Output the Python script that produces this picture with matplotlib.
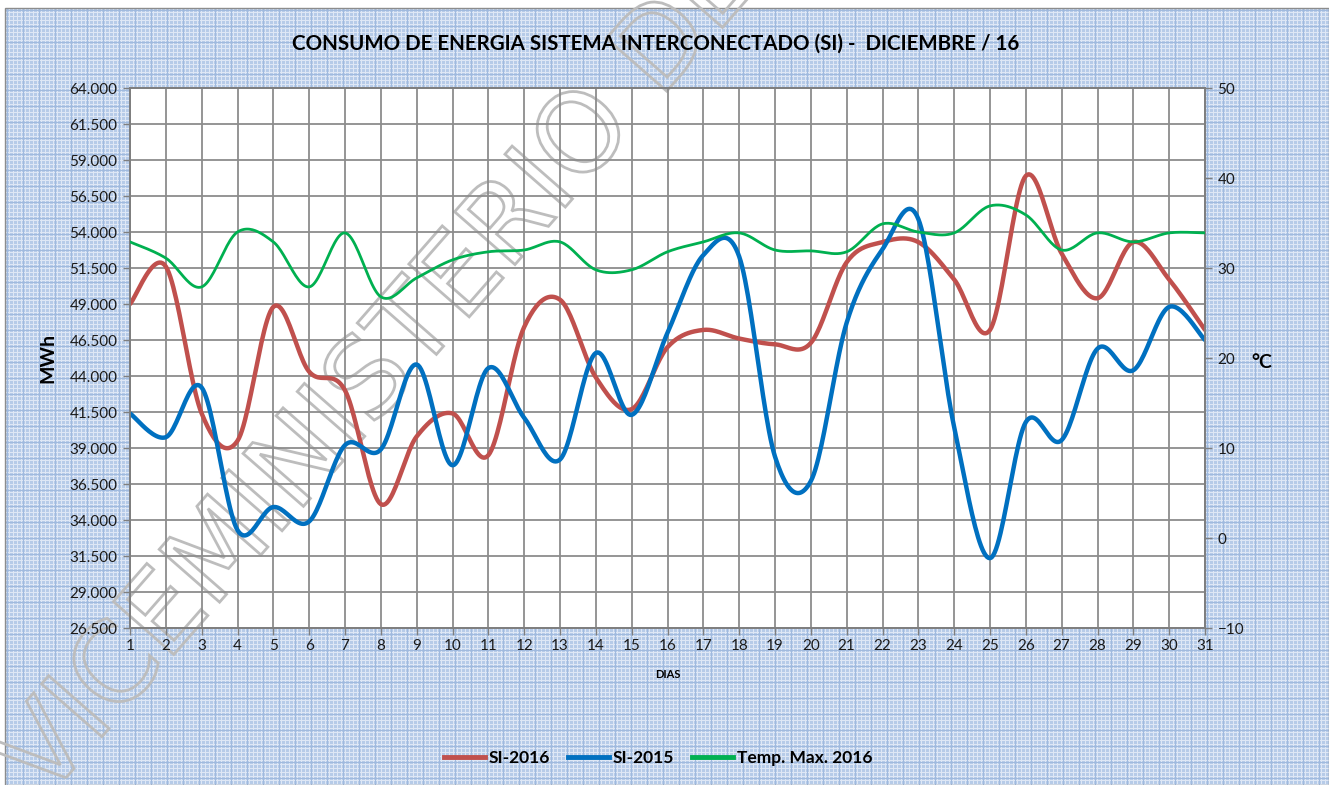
import numpy as np
import matplotlib
matplotlib.use('Agg')
import matplotlib.pyplot as plt
from matplotlib.lines import Line2D
from matplotlib.textpath import TextPath
from matplotlib.patches import PathPatch, Rectangle
from matplotlib.font_manager import FontProperties
from matplotlib.transforms import Affine2D, IdentityTransform
from matplotlib.ticker import FuncFormatter, MultipleLocator

# data
dias = list(range(1, 32))
si_2016 = [49000, 51600, 41400, 39500, 48800, 44300, 43000, 35100, 39800, 41400,
           38500, 47400, 49300, 43900, 41700, 46000, 47200, 46600, 46200, 46300,
           51900, 53300, 53300, 50700, 47200, 57900, 52500, 49400, 53300, 50700, 47200]
si_2015 = [41400, 39750, 43200, 33300, 34900, 33900, 39200, 38900, 44800, 37800,
           44550, 41100, 38200, 45600, 41300, 47000, 52400, 52300, 38400, 36700,
           47700, 52800, 54900, 40450, 31350, 40800, 39550, 45900, 44400, 48800, 46500]
temp_max = [32.9, 31.1, 27.9, 34.0, 32.9, 27.9, 33.9, 26.8, 28.9, 30.9,
            31.8, 32.0, 32.9, 29.8, 29.8, 31.8, 32.9, 33.9, 32.0, 31.9,
            31.8, 34.9, 34.0, 33.9, 36.9, 35.9, 32.0, 33.9, 32.9, 33.9, 33.9]
mwh_ticks = list(range(26500, 64001, 2500))

titulo = 'CONSUMO DE ENERGIA SISTEMA INTERCONECTADO (SI) -  DICIEMBRE / 16'
marca = 'VICEMINISTERIO DE ELECTRICIDAD'

RED = '#c0504d'
BLUE = '#0070c0'
GREEN = '#00b050'
GRID = '#8c8c8c'

plt.rcParams['font.family'] = ['Lato', 'DejaVu Sans']


def smooth(x, y, n=24):
    # Excel-style smoothed line (uniform Catmull-Rom)
    x = np.asarray(x, float)
    y = np.asarray(y, float)
    px = np.concatenate([[x[0]], x, [x[-1]]])
    py = np.concatenate([[y[0]], y, [y[-1]]])
    xs, ys = [], []
    t = np.linspace(0, 1, n, endpoint=False)
    for i in range(1, len(px) - 2):
        for arr, out in ((px, xs), (py, ys)):
            p0, p1, p2, p3 = arr[i - 1], arr[i], arr[i + 1], arr[i + 2]
            out.extend(0.5 * ((2 * p1) + (-p0 + p2) * t
                              + (2 * p0 - 5 * p1 + 4 * p2 - p3) * t ** 2
                              + (-p0 + 3 * p1 - 3 * p2 + p3) * t ** 3))
    xs.append(x[-1])
    ys.append(y[-1])
    return np.array(xs), np.array(ys)


W, H = 1329, 785
fig = plt.figure(figsize=(W / 100, H / 100), dpi=100, facecolor='white')

# blue textured background of the chart area
bh, bw = H - 8, W - 5
yy, xx = np.mgrid[0:bh, 0:bw]
bg = np.ones((bh, bw, 3)) * np.array([182, 203, 232]) / 255
light = (xx % 4 == 0) | (yy % 4 == 0)
bg[light] = np.array([222, 231, 245]) / 255
dark = (xx % 16 == 2) | (yy % 16 == 2)
bg[dark] = np.array([160, 186, 222]) / 255
fig.figimage(bg, xo=5, yo=0, zorder=-10)
fig.add_artist(Rectangle((5 / W, 0), (W - 5) / W, (H - 8) / H, transform=fig.transFigure,
                         fill=False, edgecolor='#8c8c8c', linewidth=1.0, zorder=-5))

ax = fig.add_axes([130 / W, 1 - 628 / H, 1075 / W, 540 / H])
ax.set_facecolor('white')
ax2 = ax.twinx()

ax.set_xlim(1, 31)
ax.set_ylim(26500, 64000)
ax2.set_ylim(-10, 50)
ax.set_xticks(dias)
ax.set_yticks(mwh_ticks)
ax2.yaxis.set_major_locator(MultipleLocator(10))
ax.yaxis.set_major_formatter(FuncFormatter(lambda v, _: f'{int(round(v)):,}'.replace(',', '.')))

ax.set_axisbelow(True)
ax.grid(True, color=GRID, linewidth=1.3)
for a in (ax, ax2):
    for s in a.spines.values():
        s.set_color('#7f7f7f')
        s.set_linewidth(1.3)
    a.tick_params(colors='#7f7f7f', labelcolor='#1a1a1a', labelsize=11, length=5, width=1)
ax.tick_params(axis='x', pad=3)
ax.tick_params(axis='y', pad=4)
ax2.tick_params(axis='y', pad=4)

# watermark (outlined letters), kept under the tick labels
fp = FontProperties(family='DejaVu Sans')
tp = TextPath((0, 0), marca, size=110, prop=fp)
ang = np.degrees(np.arctan2(720, 630))
th = np.radians(ang)
cap = 110 * 0.73
x0 = 15 + cap / 2 * np.sin(th)
y0 = 10 - cap / 2 * np.cos(th)
tr = Affine2D().rotate_deg(ang).translate(x0, y0)
wm = PathPatch(tr.transform_path(tp), transform=IdentityTransform(), facecolor='none',
               edgecolor='#bdbdbd', linewidth=2.0, zorder=0.3, clip_on=False)
ax.add_artist(wm)

xs, ys = smooth(dias, si_2016)
ax.plot(xs, ys, color=RED, linewidth=3.2, zorder=3, solid_capstyle='round')
xs, ys = smooth(dias, si_2015)
ax.plot(xs, ys, color=BLUE, linewidth=3.2, zorder=3.1, solid_capstyle='round')
xs, ys = smooth(dias, temp_max)
ax2.plot(xs, ys, color=GREEN, linewidth=2.0, zorder=3)

fig.text(656 / W, 1 - 44 / H, titulo, ha='center', va='center', fontsize=14.8,
         fontweight='bold', color='black')
fig.text(48 / W, 1 - 358 / H, 'MWh', rotation=90, ha='center', va='center',
         fontsize=14, fontweight='bold')
fig.text(1262 / W, 1 - 362 / H, '°C', ha='center', va='center', fontsize=14, fontweight='bold')
fig.text(667.5 / W, 1 - 675 / H, 'DIAS', ha='center', va='center', fontsize=8, fontweight='bold')

handles = [Line2D([0], [0], color=RED, linewidth=3.5),
           Line2D([0], [0], color=BLUE, linewidth=3.5),
           Line2D([0], [0], color=GREEN, linewidth=3.5)]
fig.legend(handles, ['SI-2016', 'SI-2015', 'Temp. Max. 2016'], loc='center',
           bbox_to_anchor=(658 / W, 1 - 758 / H), ncol=3, frameon=False,
           prop={'weight': 'bold', 'size': 12.5}, handlelength=2.4, handletextpad=0.2,
           columnspacing=1.0)

fig.savefig('out.png', dpi=100, facecolor='white')
